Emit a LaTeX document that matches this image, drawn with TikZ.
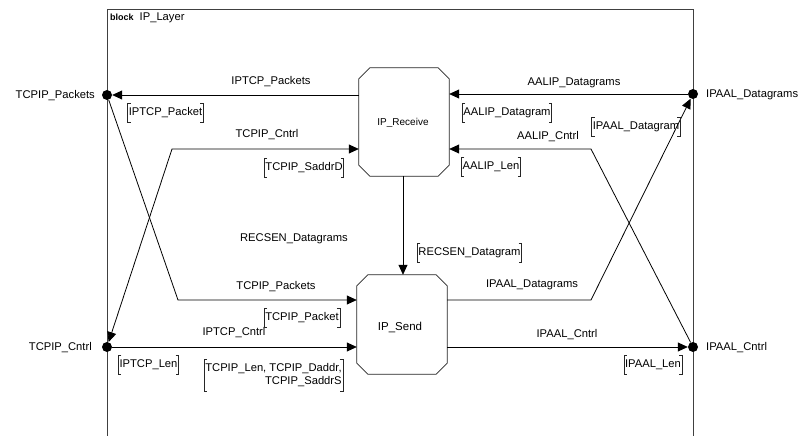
\documentclass[tikz,border=0pt]{standalone}
\usepackage{fontspec}
\setmainfont{Liberation Sans}
\usetikzlibrary{arrows.meta}
\newcommand\siglst[3]{%
  \node[sig] (#1) at (#2) {#3};
  \draw[brk] ([xshift=3pt]#1.north west) -- (#1.north west) -- (#1.south west) -- ([xshift=3pt]#1.south west);
  \draw[brk] ([xshift=-3pt]#1.north east) -- (#1.north east) -- (#1.south east) -- ([xshift=-3pt]#1.south east);
}
\newcommand\chambox[1]{%
  \draw[boxline] ([xshift=11pt]#1.north west) -- ([xshift=-11pt]#1.north east)
    -- ([yshift=-11pt]#1.north east) -- ([yshift=11pt]#1.south east)
    -- ([xshift=-11pt]#1.south east) -- ([xshift=11pt]#1.south west)
    -- ([yshift=11pt]#1.south west) -- ([yshift=-11pt]#1.north west) -- cycle;
}
\begin{document}
\begin{tikzpicture}[x=1pt,y=-1pt,
  lbl/.style={font=\fontsize{11.2}{13.5}\selectfont, inner sep=0pt},
  sig/.style={font=\fontsize{11.2}{13.5}\selectfont, inner xsep=1pt, inner ysep=4pt, align=right},
  brk/.style={draw=black!85, line width=0.7pt},
  ch/.style={draw=black, line width=0.8pt},
  tip/.style={-{Triangle[length=10pt,width=9pt]}},
  boxline/.style={draw=black!85, line width=0.8pt},
  frameline/.style={draw=black!75, line width=0.9pt},
  port/.style={circle, fill=black, inner sep=0pt, minimum size=10pt},
  blk/.style={inner sep=0pt, minimum width=90pt},
]
\useasboundingbox[fill=white] (0,0) rectangle (807,436);
% frame
\draw[frameline] (107,436) -- (107,9) -- (693,9) -- (693,436);
\node[anchor=base west, inner sep=0pt] (title) at (110,21)
  {{\bfseries\fontsize{9}{11}\selectfont block}\hspace{6pt}{\fontsize{11.2}{13.5}\selectfont IP\_Layer}};
% blocks
\node[blk, minimum height=108pt] (rcv) at (404,122) {};
\chambox{rcv}
\node[font=\fontsize{10}{12}\selectfont] (rcvt) at (403,123) {IP\_Receive};
\node[blk, minimum height=99pt] (snd) at (402,324.5) {};
\chambox{snd}
\node[font=\fontsize{11.5}{13.5}\selectfont] (sndt) at (400,327) {IP\_Send};
% ports
\node[port] (pTP) at (107,95) {};
\node[port] (pTC) at (107,347) {};
\node[port] (pAD) at (693,94) {};
\node[port] (pAC) at (693,347) {};
\node[lbl, anchor=east] (lTP) at (95,96) {TCPIP\_Packets};
\node[lbl, anchor=east] (lTC) at (92,348) {TCPIP\_Cntrl};
\node[lbl, anchor=west] (lAD) at (706,95) {IPAAL\_Datagrams};
\node[lbl, anchor=west] (lAC) at (706,348) {IPAAL\_Cntrl};
% bend points
\coordinate (b1) at (172,149);
\coordinate (b2) at (178,300);
\coordinate (b3) at (591,149);
\coordinate (b4) at (591,300);
% channels
\draw[ch, tip] (rcv.west |- pTP) -- (pTP);
\draw[ch, {Triangle[length=10pt,width=9pt]}-{Triangle[length=10pt,width=9pt]}] (pTC) -- (b1) -- (rcv.west |- b1);
\draw[ch, tip] (pTP) -- (b2) -- (snd.west |- b2);
\draw[ch, tip] (pTC) -- (snd.west |- pTC);
\draw[ch, tip] (pAD) -- (rcv.east |- pAD);
\draw[ch, tip] (pAC) -- (b3) -- (rcv.east |- b3);
\draw[ch, tip] (snd.east |- b4) -- (b4) -- (pAD);
\draw[ch, tip] (snd.east |- pAC) -- (pAC);
\draw[ch, tip] (rcv.south -| 403,0) -- (snd.north -| 403,0);
% channel labels
\node[lbl] (n1) at (271,82) {IPTCP\_Packets};
\node[lbl] (n2) at (267,135) {TCPIP\_Cntrl};
\node[lbl] (n3) at (294,239) {RECSEN\_Datagrams};
\node[lbl] (n4) at (276,287) {TCPIP\_Packets};
\node[lbl] (n5) at (234,333) {IPTCP\_Cntrl};
\node[lbl] (n6) at (574,83) {AALIP\_Datagrams};
\node[lbl] (n7) at (548,137) {AALIP\_Cntrl};
\node[lbl] (n8) at (532,285) {IPAAL\_Datagrams};
\node[lbl] (n9) at (567,335) {IPAAL\_Cntrl};
% signal lists
\siglst{s1}{165.5,113}{IPTCP\_Packet}
\siglst{s2}{304,168}{TCPIP\_SaddrD}
\siglst{s3}{302,318}{TCPIP\_Packet}
\siglst{s4}{148.5,365}{IPTCP\_Len}
\siglst{s5}{273.5,375}{TCPIP\_Len, TCPIP\_Daddr,\\TCPIP\_SaddrS}
\siglst{s6}{507,113}{AALIP\_Datagram}
\siglst{s7}{636,127}{IPAAL\_Datagram}
\siglst{s8}{491,167}{AALIP\_Len}
\siglst{s9}{469.5,253}{RECSEN\_Datagram}
\siglst{s10}{653,365}{IPAAL\_Len}
\end{tikzpicture}
\end{document}
